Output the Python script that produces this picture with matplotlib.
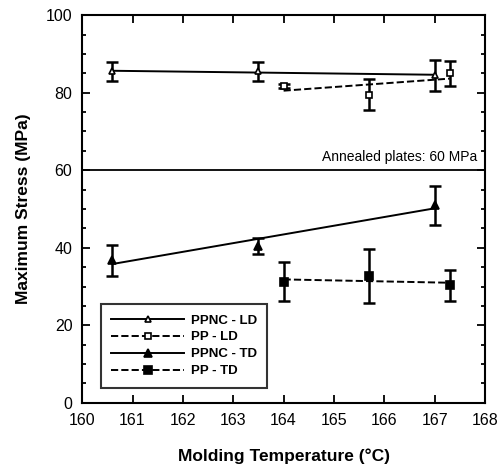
import matplotlib
matplotlib.use('Agg')
import matplotlib.pyplot as plt
import numpy as np
from matplotlib.ticker import MultipleLocator

plt.rcParams['font.family'] = ['Liberation Sans', 'DejaVu Sans']

# data
ppnc_ld_x = [160.6, 163.5, 167.0]
ppnc_ld_y = [85.5, 85.5, 84.5]
ppnc_ld_err = [2.5, 2.5, 4.0]

pp_ld_x = [164.0, 165.7, 167.3]
pp_ld_y = [81.8, 79.5, 85.0]
pp_ld_err = [0.5, 4.0, 3.2]

ppnc_td_x = [160.6, 163.5, 167.0]
ppnc_td_y = [36.8, 40.5, 51.0]
ppnc_td_err = [4.0, 2.0, 5.0]

pp_td_x = [164.0, 165.7, 167.3]
pp_td_y = [31.2, 32.7, 30.3]
pp_td_err = [5.0, 7.0, 4.0]

annealed = 60

series = [
    ('PPNC - LD', ppnc_ld_x, ppnc_ld_y, ppnc_ld_err, '-', '^', 'white', 4.5),
    ('PP - LD', pp_ld_x, pp_ld_y, pp_ld_err, '--', 's', 'white', 4.5),
    ('PPNC - TD', ppnc_td_x, ppnc_td_y, ppnc_td_err, '-', '^', 'black', 5.5),
    ('PP - TD', pp_td_x, pp_td_y, pp_td_err, '--', 's', 'black', 6),
]

fig = plt.figure(figsize=(4.98, 4.75), dpi=100)
ax = fig.add_axes([0.165, 0.152, 0.809, 0.816])

handles = []
for label, x, y, err, ls, mk, fc, ms in series:
    x = np.array(x)
    y = np.array(y)
    ax.errorbar(x, y, yerr=err, fmt='none', ecolor='black', elinewidth=1.8,
                capsize=4, capthick=1.8, zorder=3)
    # trend line (linear fit)
    p = np.polyfit(x, y, 1)
    xx = np.array([x.min(), x.max()])
    ax.plot(xx, np.polyval(p, xx), color='black', ls=ls, lw=1.4, zorder=2)
    ax.plot(x, y, ls='none', marker=mk, mfc=fc, mec='black', mew=1.2,
            ms=ms, zorder=4)
    h, = ax.plot([], [], color='black', ls=ls, lw=1.4, marker=mk, mfc=fc,
                 mec='black', mew=1.2, ms=ms, label=label)
    handles.append(h)

ax.axhline(annealed, color='black', lw=1.3)
ax.text(167.85, annealed + 1.5, 'Annealed plates: 60 MPa', ha='right',
        va='bottom', fontsize=10)

ax.set_xlim(160, 168)
ax.set_ylim(0, 100)
ax.xaxis.set_major_locator(MultipleLocator(1))
ax.yaxis.set_major_locator(MultipleLocator(20))
ax.yaxis.set_minor_locator(MultipleLocator(5))
ax.tick_params(which='both', direction='in', top=True, right=True,
               labelsize=11.5, width=1.3)
ax.tick_params(which='major', length=6, pad=7)
ax.tick_params(which='minor', length=3)
for s in ax.spines.values():
    s.set_linewidth(1.5)

ax.set_xlabel('Molding Temperature (°C)', fontsize=12.5, fontweight='bold',
              labelpad=15)
ax.set_ylabel('Maximum Stress (MPa)', fontsize=12.5, fontweight='bold',
              labelpad=11)

leg = ax.legend(handles=handles, loc='lower left', bbox_to_anchor=(0.03, 0.022),
                prop={'size': 9.5, 'weight': 'bold'}, handlelength=5.5,
                frameon=True, fancybox=False, edgecolor='black',
                borderpad=0.8, labelspacing=0.35, handletextpad=0.5)
leg.get_frame().set_linewidth(1.5)

fig.savefig('out.png', dpi=100)
